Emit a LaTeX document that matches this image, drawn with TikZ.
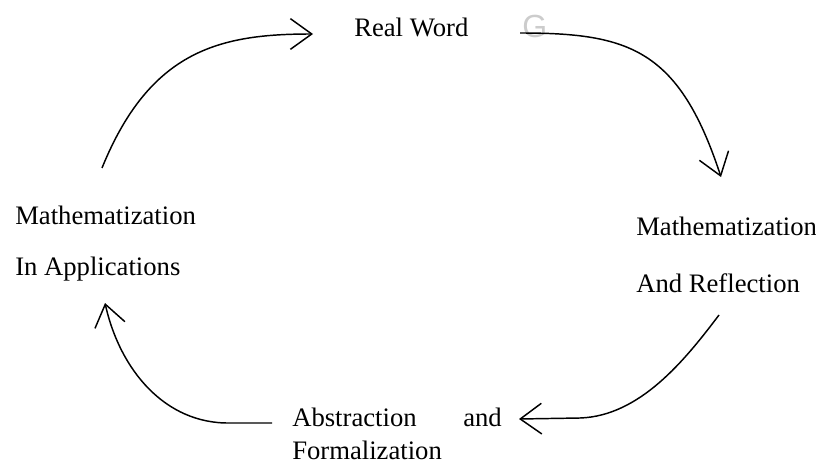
\documentclass[tikz,border=0pt]{standalone}
\usepackage{fontspec}
\setmainfont{Liberation Serif}
\newfontfamily\gfont{Liberation Sans}
\usetikzlibrary{arrows.meta}
\begin{document}
\begin{tikzpicture}[x=0.75pt,y=-0.75pt,
  lbl/.style={anchor=base west,inner sep=0pt,font=\fontsize{20}{24}\selectfont},
  cyc/.style={line width=1.1pt,-{Straight Barb[length=16pt,width=23pt,line width=1.1pt]}}]
\useasboundingbox (0,0) rectangle (816,463);
% labels
\node[lbl] (real) at (354,37) {Real Word};
\node[anchor=base west,inner sep=0pt,font=\gfont\fontsize{24}{26}\selectfont,text=black!20] (g) at (522,38) {G};
\node[lbl] (mr1) at (636,235) {Mathematization};
\node[lbl] (mr2) at (636,292) {And Reflection};
\node[lbl] (ab1) at (292,426) {Abstraction};
\node[lbl] (ab2) at (463,426) {and};
\node[lbl] (ab3) at (292,459) {Formalization};
\node[lbl] (ml1) at (15,224) {Mathematization};
\node[lbl] (ml2) at (15,275) {In Applications};
% connector end points
\coordinate (a1s) at (102,168);
\coordinate (a1e) at (313,34);
\coordinate (a2s) at (520,33);
\coordinate (a2e) at (721,177);
\coordinate (a3s) at (719,315);
\coordinate (a3m) at (580,418);
\coordinate (a3e) at (519,419);
\coordinate (a4s) at (272,423);
\coordinate (a4m) at (230,423);
\coordinate (a4e) at (105,303);
% connectors
\draw[cyc] (a1s) .. controls (150,50) and (220,34) .. (a1e);
\draw[cyc] (a2s) .. controls (629,33) and (679,49) .. (a2e);
\draw[cyc] (a3s) .. controls (685,360) and (640,416) .. (a3m) -- (a3e);
\draw[cyc] (a4s) -- (a4m) .. controls (165,424) and (120,370) .. (a4e);
\end{tikzpicture}
\end{document}
